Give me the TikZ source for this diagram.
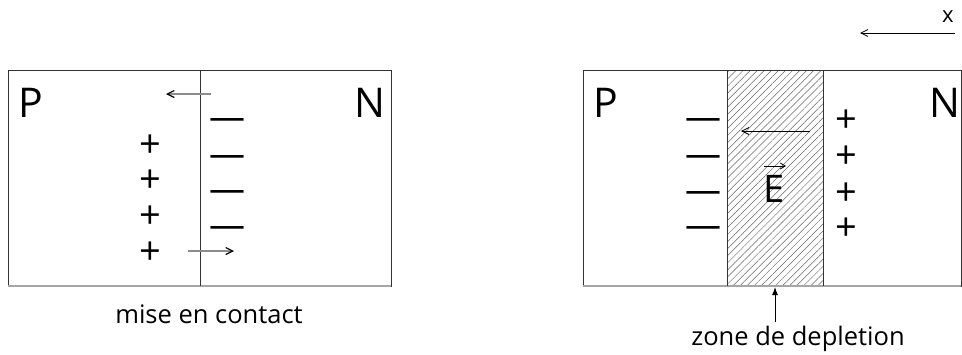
\documentclass[tikz,border=0pt]{standalone}
\usepackage{fontspec}
\setmainfont{Open Sans}
\usetikzlibrary{patterns.meta,arrows.meta}
\begin{document}
\begin{tikzpicture}[x=1pt,y=-1pt,
  box/.style={draw=black!80,line width=1pt},
  big/.style={font=\fontsize{41}{44}\selectfont,inner sep=0pt},
  sign/.style={font=\fontsize{38}{40}\selectfont,inner sep=0pt},
  msign/.style={font=\fontsize{36}{38}\selectfont,inner sep=0pt},
  lab/.style={font=\fontsize{25.5}{28}\selectfont,inner sep=0pt,anchor=base},
  garrow/.style={draw=black!45,line width=1.2pt,-{Straight Barb[length=7pt,width=7pt,color=black]}},
  barrow/.style={draw=black,line width=0.8pt,-{Straight Barb[length=7pt,width=7pt]}}]
\useasboundingbox (0,0) rectangle (962,354);
% left diagram
\draw[box] (8,70) rectangle (391,286);
\draw[black!35,line width=2pt] (8,286) -- (391,286);
\draw[box] (200,70) -- (200,286);
\node[big] (P1) at (31,103) {P};
\node[big] (N1) at (370,103) {N};
\foreach \y/\n in {146/a,181/b,217/c,253/d} \node[sign] (p\n) at (150,\y) {+};
\foreach \y/\n in {124/a,161/b,196/c,232/d} \node[msign] (m\n) at (227,\y) {—};
\coordinate (la1) at (211,94); \coordinate (la2) at (166,94);
\coordinate (lb1) at (188,251); \coordinate (lb2) at (234,251);
\draw[garrow] (la1) -- (la2);
\draw[garrow] (lb1) -- (lb2);
\node[lab] (mc) at (209,323) {mise en contact};
% right diagram
\fill[pattern={Lines[angle=45,distance=5pt,line width=0.5pt]},pattern color=black!60] (727,70) rectangle (823,286);
\draw[box] (583,70) rectangle (961,286);
\draw[black!35,line width=2pt] (583,286) -- (961,286);
\draw[box] (727,70) -- (727,286);
\draw[box] (823,70) -- (823,286);
\node[big] (P2) at (606,103) {P};
\node[big] (N2) at (945,103) {N};
\foreach \y/\n in {124/a,161/b,197/c,232/d} \node[msign] (rm\n) at (703,\y) {—};
\foreach \y/\n in {121/a,157/b,194/c,229/d} \node[sign] (rp\n) at (846,\y) {+};
\coordinate (ea1) at (810,131); \coordinate (ea2) at (741,131);
\draw[barrow] (ea1) -- (ea2);
\node[big,font=\fontsize{38}{40}\selectfont] (E) at (774,189) {E};
\coordinate (v1) at (764,166); \coordinate (v2) at (786,166);
\draw[line width=0.8pt,-{Straight Barb[length=5pt,width=6pt]}] (v1) -- (v2);
\node[lab] (zd) at (798,345) {zone de depletion};
\coordinate (zs) at (775,322);
\draw[line width=1pt,-{Latex[length=8pt,width=6pt]}] (zs) -- (775,287);
% x axis
\coordinate (x1) at (955,33); \coordinate (x2) at (860,33);
\draw[barrow] (x1) -- (x2);
\node[lab,font=\fontsize{22}{24}\selectfont] (xl) at (948,22) {x};
\end{tikzpicture}
\end{document}
